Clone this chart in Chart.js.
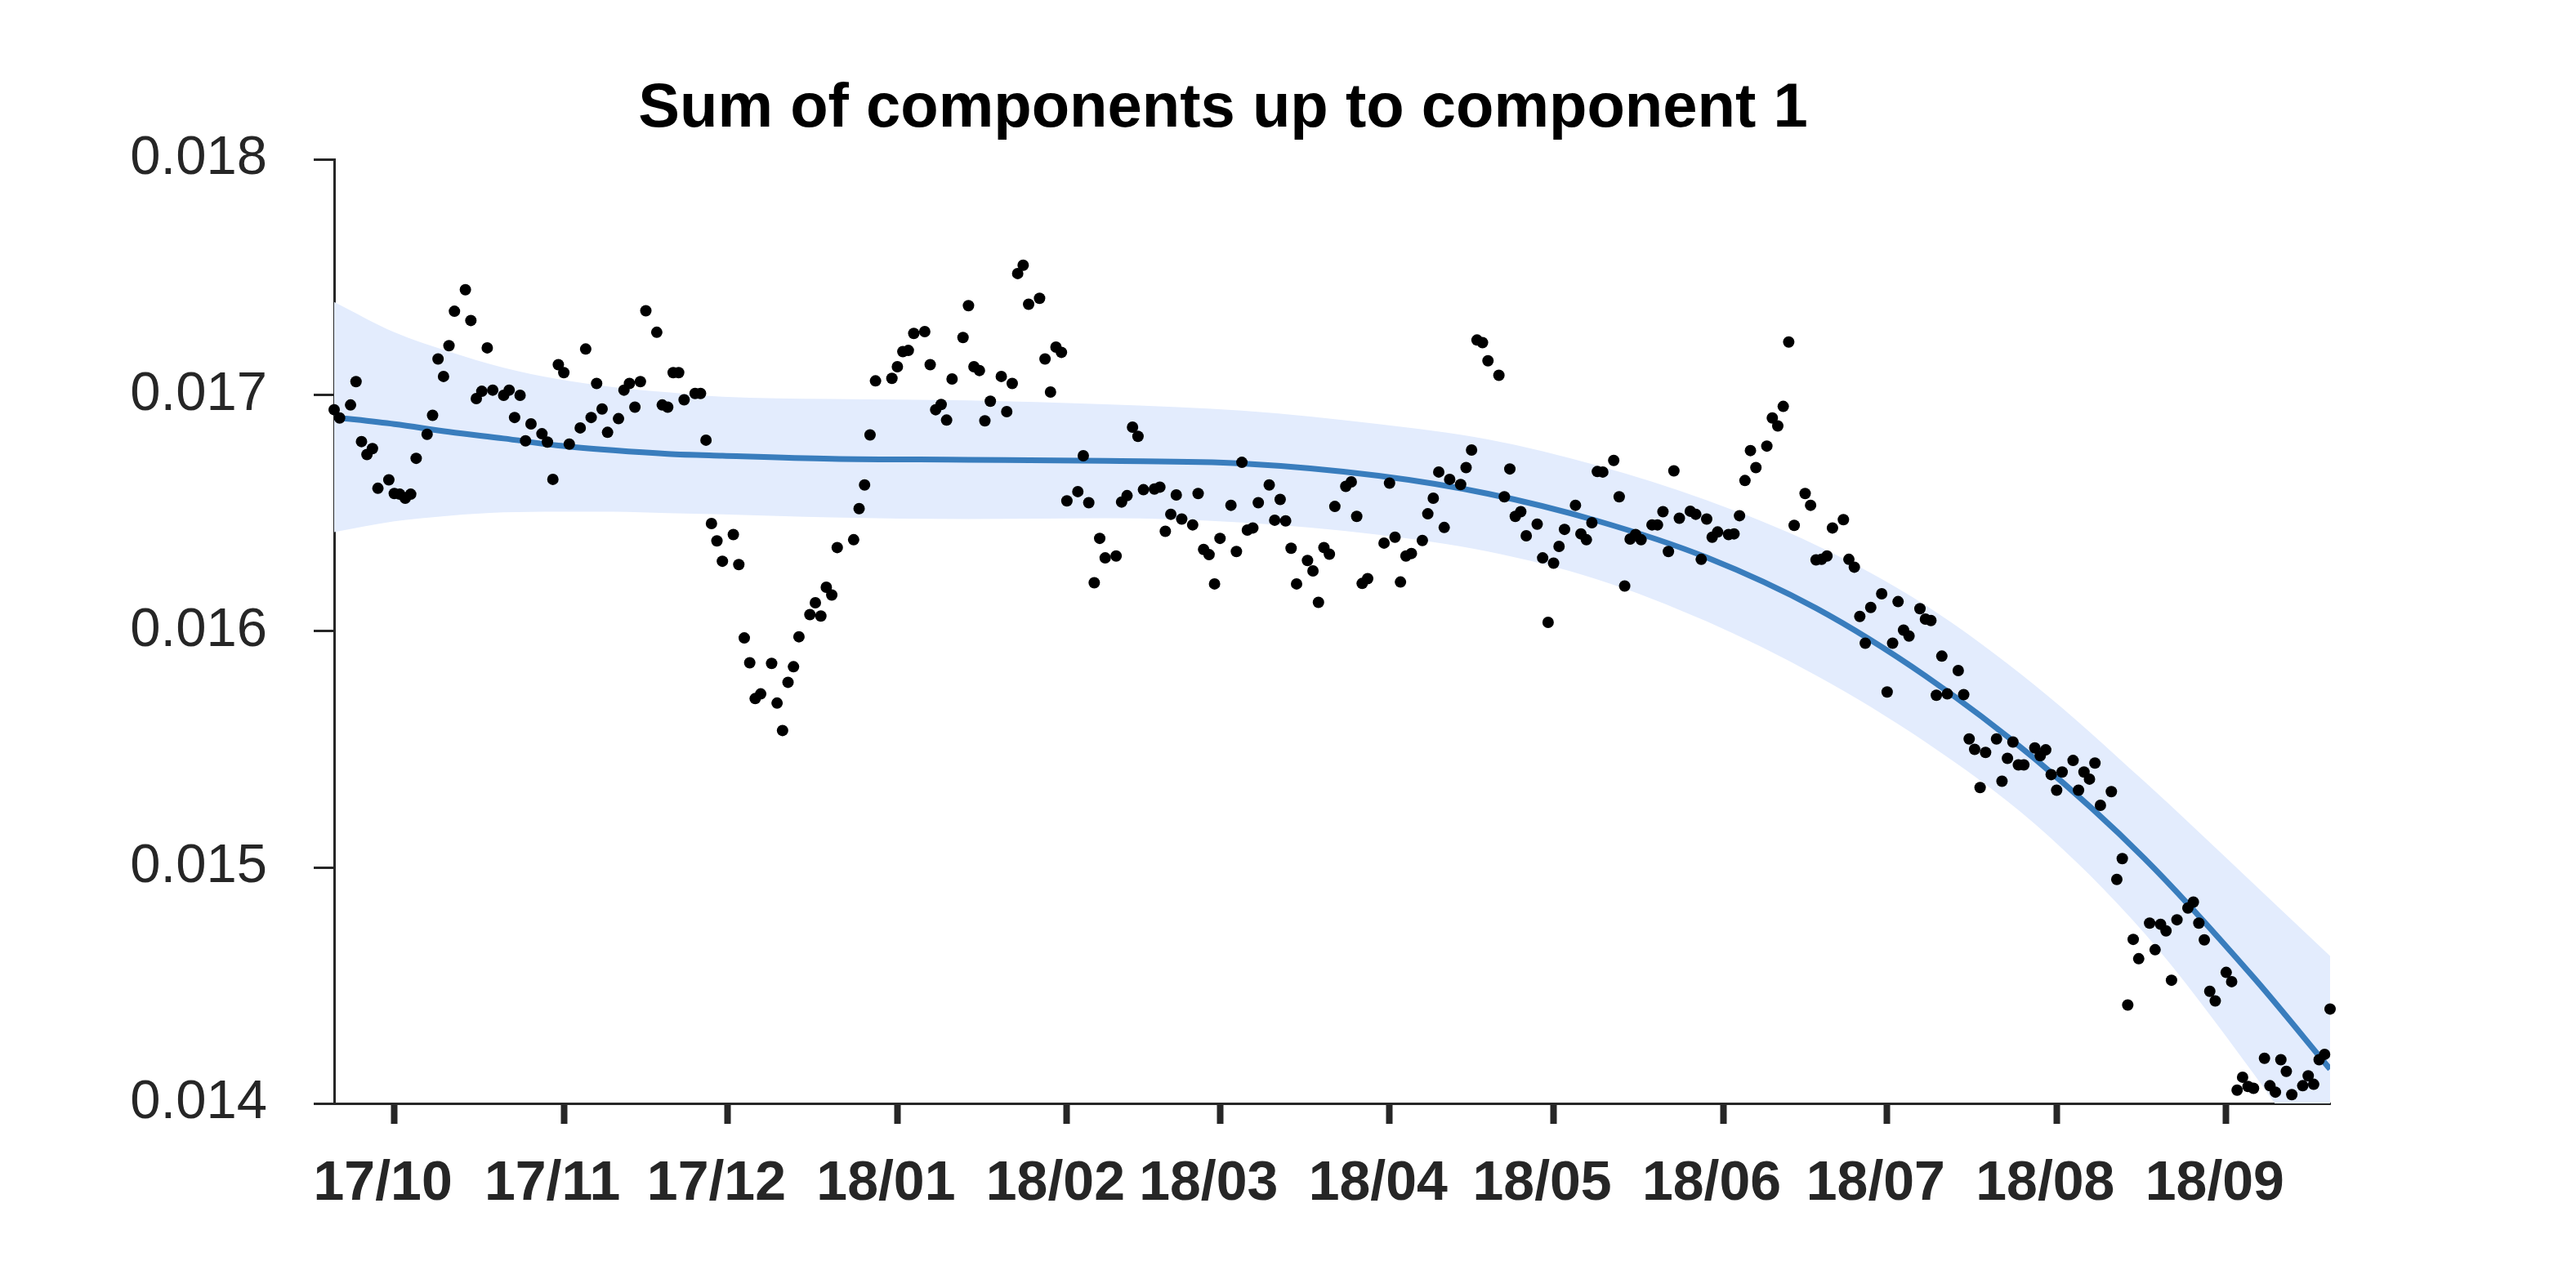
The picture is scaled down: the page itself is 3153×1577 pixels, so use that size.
<!DOCTYPE html>
<html>
<head>
<meta charset="utf-8">
<script src="https://cdn.jsdelivr.net/npm/chart.js@4.4.1/dist/chart.umd.min.js"></script>
<style>
  html, body { margin: 0; padding: 0; background: #ffffff; overflow: hidden; }
  canvas { display: block; }
</style>
</head>
<body>
<canvas id="c" width="3153" height="1577"></canvas>
<script>
// ---------------- DATA ----------------
const chartTitle = 'Sum of components up to component 1';

// Daily observations, one entry per calendar day from each month's start date (null = no observation)
const sep17 = [0.016939, 0.016904, null, 0.016959, 0.017058, 0.016804, 0.016749, 0.016774, 0.016606, null, 0.016642];
const oct17 = [0.016584, 0.016581, 0.016564, 0.016581, 0.016733, null, 0.016835, 0.016915, 0.017154, 0.017080,
               0.017210, 0.017356, null, 0.017447, 0.017317, 0.016986, 0.017017, 0.017201, 0.017022, null,
               0.017000, 0.017022, 0.016906, 0.017000, 0.016807, 0.016879, null, 0.016837, 0.016802, 0.016644, 0.017130];
const nov17 = [0.017096, 0.016793, null, 0.016862, 0.017196, 0.016906, 0.017050, 0.016942, 0.016843, null,
               0.016901, 0.017022, 0.017050, 0.016950, 0.017058, 0.017358, null, 0.017267, 0.016959, 0.016950,
               0.017096, 0.017096, 0.016981, null, 0.017008, 0.017008, 0.016810, 0.016457, 0.016383, 0.016297];
const dec17 = [null, 0.016410, 0.016283, 0.015972, 0.015867, 0.015715, 0.015735, null, 0.015864, 0.015696,
               0.015580, 0.015784, 0.015850, 0.015977, null, 0.016071, 0.016121, 0.016065, 0.016187, 0.016154,
               0.016355, null, null, 0.016388, 0.016520, 0.016620, 0.016832, 0.017061, null, null, 0.017072];
const jan18 = [0.017121, 0.017185, 0.017190, 0.017262, null, 0.017270, 0.017130, 0.016939, 0.016961, 0.016895,
               0.017069, null, 0.017245, 0.017380, 0.017121, 0.017105, 0.016892, 0.016975, null, 0.017080,
               0.016931, 0.017050, 0.017516, 0.017551, 0.017386, null, 0.017411, 0.017154, 0.017014, 0.017204, 0.017182];
const feb18 = [0.016553, null, 0.016592, 0.016744, 0.016545, 0.016206, 0.016394, 0.016311, null, 0.016319,
               0.016548, 0.016575, 0.016865, 0.016826, 0.016600, null, 0.016603, 0.016611, 0.016424, 0.016496,
               0.016578, 0.016476, null, 0.016451, 0.016584, 0.016347, 0.016325, 0.016201];
const mar18 = [0.016394, null, 0.016534, 0.016338, 0.016716, 0.016429, 0.016438, 0.016545, null, 0.016620,
               0.016471, 0.016559, 0.016468, 0.016352, 0.016201, null, 0.016300, 0.016256, 0.016123, 0.016355,
               0.016327, 0.016529, null, 0.016614, 0.016633, 0.016487, 0.016203, 0.016223, null, null, 0.016374];
const apr18 = [0.016628, 0.016399, 0.016209, 0.016319, 0.016330, null, 0.016385, 0.016498, 0.016564, 0.016675,
               0.016440, 0.016644, null, 0.016622, 0.016694, 0.016768, 0.017234, 0.017223, 0.017146, null,
               0.017085, 0.016570, 0.016688, 0.016487, 0.016507, 0.016405, null, 0.016454, 0.016311, 0.016038];
const may18 = [0.016289, 0.016360, 0.016432, null, 0.016534, 0.016413, 0.016388, 0.016460, 0.016677, 0.016675,
               null, 0.016724, 0.016570, 0.016192, 0.016391, 0.016410, 0.016388, null, 0.016451, 0.016451,
               0.016507, 0.016338, 0.016680, 0.016479, null, 0.016509, 0.016496, 0.016305, 0.016476, 0.016399, 0.016421];
const jun18 = [null, 0.016410, 0.016413, 0.016490, 0.016639, 0.016766, 0.016694, null, 0.016785, 0.016904,
               0.016870, 0.016953, 0.017226, 0.016449, null, 0.016584, 0.016534, 0.016303, 0.016305, 0.016319,
               0.016438, null, 0.016473, 0.016305, 0.016272, 0.016063, 0.015950, 0.016101, null, 0.016159];
const jul18 = [0.015743, 0.015950, 0.016126, 0.016005, 0.015980, null, 0.016096, 0.016052, 0.016046, 0.015729,
               0.015895, 0.015735, null, 0.015834, 0.015732, 0.015544, 0.015500, 0.015338, 0.015487, null,
               0.015544, 0.015365, 0.015462, 0.015531, 0.015434, 0.015434, null, 0.015506, 0.015473, 0.015498, 0.015393];
const aug18 = [0.015327, 0.015404, null, 0.015453, 0.015327, 0.015404, 0.015374, 0.015442, 0.015263, null,
               0.015321, 0.014949, 0.015037, 0.014417, 0.014695, 0.014613, null, 0.014764, 0.014651, 0.014759,
               0.014731, 0.014522, 0.014778, null, 0.014828, 0.014853, 0.014764, 0.014693, 0.014475, 0.014434, null];
const sep18 = [0.014555, 0.014516, 0.014056, 0.014111, 0.014072, 0.014064, null, 0.014191, 0.014075, 0.014048,
               0.014185, 0.014136, 0.014037, null, 0.014075, 0.014117, 0.014081, 0.014185, 0.014208, 0.014400];

const monthStarts = ['2017-09-20', '2017-10-01', '2017-11-01', '2017-12-01', '2018-01-01', '2018-02-01',
                     '2018-03-01', '2018-04-01', '2018-05-01', '2018-06-01', '2018-07-01', '2018-08-01', '2018-09-01'];
const monthValues = [sep17, oct17, nov17, dec17, jan18, feb18, mar18, apr18, may18, jun18, jul18, aug18, sep18];

// Smooth fit and its confidence band, sampled at these dates
const fitDates = ['2017-09-20', '2017-10-01', '2017-10-11', '2017-10-21', '2017-10-31', '2017-11-10', '2017-11-20',
                  '2017-11-30', '2017-12-20', '2018-01-14', '2018-02-08', '2018-03-05', '2018-03-30', '2018-04-19',
                  '2018-05-09', '2018-05-29', '2018-06-18', '2018-07-08', '2018-07-28', '2018-08-17', '2018-09-06',
                  '2018-09-20'];
const fitValues = [0.016907, 0.016878, 0.016845, 0.016817, 0.016787, 0.016767, 0.016752, 0.016744, 0.016731,
                   0.016727, 0.016722, 0.016711, 0.016659, 0.016583, 0.016468, 0.016313, 0.016098, 0.015811,
                   0.015460, 0.015039, 0.014534, 0.014145];
const bandUpper = [0.017395, 0.017267, 0.017185, 0.017117, 0.017068, 0.017035, 0.017013, 0.016994, 0.016984,
                   0.016978, 0.016962, 0.016935, 0.016878, 0.016813, 0.016702, 0.016555, 0.016365, 0.016111,
                   0.015772, 0.015365, 0.014931, 0.014625];
const bandLower = [0.016420, 0.016466, 0.016490, 0.016504, 0.016507, 0.016507, 0.016501, 0.016496, 0.016483,
                   0.016476, 0.016479, 0.016461, 0.016409, 0.016338, 0.016220, 0.016042, 0.015813, 0.015531,
                   0.015184, 0.014722, 0.014126, 0.013660];

const xTickLabels = ['17/10', '17/11', '17/12', '18/01', '18/02', '18/03', '18/04', '18/05', '18/06', '18/07', '18/08', '18/09'];
const yTickValues = [0.014, 0.015, 0.016, 0.017, 0.018];
const xRange = ['2017-09-20', '2018-09-20'];

// ---------------- HELPERS ----------------
const ORIGIN = Date.UTC(2017, 9, 1);
function dayOf(iso) {
  const [y, m, d] = iso.split('-').map(Number);
  return (Date.UTC(y, m - 1, d) - ORIGIN) / 86400000;
}
function tickDay(label) {
  const [yy, mm] = label.split('/').map(Number);
  return (Date.UTC(2000 + yy, mm - 1, 1) - ORIGIN) / 86400000;
}

const obsPoints = [];
monthStarts.forEach((start, k) => {
  const d0 = dayOf(start);
  monthValues[k].forEach((v, i) => { if (v !== null) obsPoints.push({ x: d0 + i, y: v }); });
});
const fitX = fitDates.map(dayOf);
const fitPts = fitX.map((x, i) => ({ x, y: fitValues[i] }));
const upPts = fitX.map((x, i) => ({ x, y: bandUpper[i] }));
const loPts = fitX.map((x, i) => ({ x, y: bandLower[i] }));
const xTickDays = xTickLabels.map(tickDay);

const AXIS = '#262626';
const FONT = '"Liberation Sans", Arial, Helvetica, sans-serif';

const titlePlugin = {
  id: 'customTitle',
  afterDraw(chart) {
    const ctx = chart.ctx;
    ctx.save();
    ctx.font = 'bold 76px ' + FONT;
    ctx.fillStyle = '#000000';
    ctx.textAlign = 'center';
    ctx.textBaseline = 'alphabetic';
    ctx.fillText(chartTitle, 1497, 155);
    ctx.restore();
  }
};

new Chart(document.getElementById('c').getContext('2d'), {
  data: {
    datasets: [
      { type: 'line', data: upPts, borderWidth: 0, borderColor: 'rgba(0,0,0,0)', pointRadius: 0,
        fill: '+1', backgroundColor: 'rgb(227,236,253)', cubicInterpolationMode: 'monotone', order: 3 },
      { type: 'line', data: loPts, borderWidth: 0, borderColor: 'rgba(0,0,0,0)', pointRadius: 0,
        fill: false, cubicInterpolationMode: 'monotone', order: 3 },
      { type: 'line', data: fitPts, borderWidth: 7, borderColor: 'rgb(57,125,189)', pointRadius: 0,
        fill: false, cubicInterpolationMode: 'monotone', order: 2 },
      { type: 'scatter', data: obsPoints, pointRadius: 7, pointHoverRadius: 7, backgroundColor: '#000000',
        borderWidth: 0, clip: false, order: 1 }
    ]
  },
  options: {
    responsive: false,
    animation: false,
    events: [],
    layout: { padding: { left: 0, top: 195, right: 301, bottom: 0 } },
    plugins: { legend: { display: false }, tooltip: { enabled: false }, title: { display: false } },
    scales: {
      x: {
        type: 'linear',
        min: dayOf(xRange[0]),
        max: dayOf(xRange[1]),
        afterBuildTicks: (s) => { s.ticks = xTickDays.map(v => ({ value: v })); },
        afterFit: (s) => { s.height = 226; },
        grid: { display: true, drawOnChartArea: false, drawTicks: true, tickLength: 25, tickWidth: 8,
                tickColor: AXIS, color: AXIS },
        border: { display: true, color: AXIS, width: 3 },
        ticks: { autoSkip: false, maxRotation: 0, minRotation: 0, padding: 33, labelOffset: -14,
                 color: AXIS, font: { family: FONT, size: 68, weight: 'bold' },
                 callback: (v, i) => xTickLabels[i] }
      },
      y: {
        type: 'linear',
        min: yTickValues[0],
        max: yTickValues[yTickValues.length - 1],
        afterBuildTicks: (s) => { s.ticks = yTickValues.map(v => ({ value: v })); },
        afterFit: (s) => { s.width = 409; },
        grid: { display: true, drawOnChartArea: false, drawTicks: true, tickLength: 25, tickWidth: 3,
                tickColor: AXIS, color: AXIS },
        border: { display: true, color: AXIS, width: 3 },
        ticks: { padding: 57, color: AXIS, font: { family: FONT, size: 67 },
                 callback: (v) => Number(v).toFixed(3) }
      }
    }
  },
  plugins: [titlePlugin]
});
</script>
</body>
</html>
